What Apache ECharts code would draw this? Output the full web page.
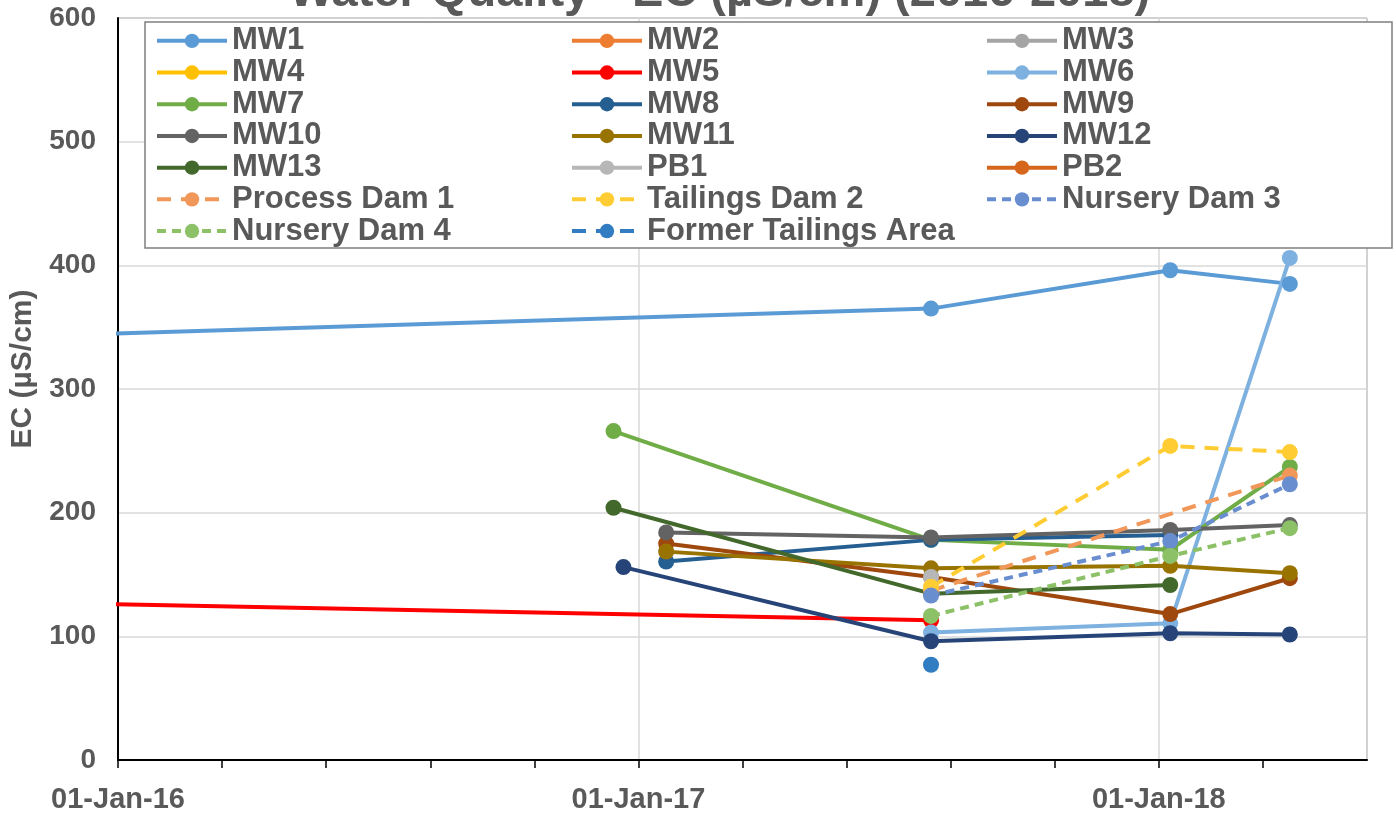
<!DOCTYPE html>
<html>
<head>
<meta charset="utf-8">
<style>
  html, body { margin: 0; padding: 0; background: #fff; }
  #chart { width: 1396px; height: 814px; }
</style>
<script src="https://cdn.jsdelivr.net/npm/echarts@6/dist/echarts.min.js"></script>
</head>
<body>
<div id="chart"></div>
<script>
// Electrical conductivity readings per monitoring point: [sample date, EC in µS/cm]
const mw1 = [['2015-08-15', 340], ['2017-07-25', 365], ['2018-01-09', 396], ['2018-04-03', 385]];
const mw2 = [];
const mw3 = [];
const mw4 = [];
const mw5 = [['2015-08-15', 129], ['2017-07-25', 113]];
const mw6 = [['2017-07-25', 103], ['2018-01-09', 110.5], ['2018-04-03', 406]];
const mw7 = [['2016-12-14', 266], ['2017-07-25', 178], ['2018-01-09', 170], ['2018-04-03', 237]];
const mw8 = [['2017-01-20', 160.5], ['2017-07-25', 178], ['2018-01-09', 182]];
const mw9 = [['2017-01-20', 175], ['2017-07-25', 148], ['2018-01-09', 118], ['2018-04-03', 147]];
const mw10 = [['2017-01-20', 184], ['2017-07-25', 180], ['2018-01-09', 186], ['2018-04-03', 190]];
const mw11 = [['2017-01-20', 168.5], ['2017-07-25', 155], ['2018-01-09', 157], ['2018-04-03', 151]];
const mw12 = [['2016-12-21', 156], ['2017-07-25', 96], ['2018-01-09', 102.5], ['2018-04-03', 101.5]];
const mw13 = [['2016-12-14', 204], ['2017-07-25', 134.5], ['2018-01-09', 141.5]];
const pb1 = [['2017-07-25', 148]];
const pb2 = [];
const processDam1 = [['2017-07-25', 137], ['2018-04-03', 230]];
const tailingsDam2 = [['2017-07-25', 140], ['2018-01-09', 254], ['2018-04-03', 249]];
const nurseryDam3 = [['2017-07-25', 133], ['2018-01-09', 177], ['2018-04-03', 223]];
const nurseryDam4 = [['2017-07-25', 116.5], ['2018-01-09', 165], ['2018-04-03', 187.5]];
const formerTailingsArea = [['2017-07-25', 77]];

const seriesNames = ['MW1', 'MW2', 'MW3', 'MW4', 'MW5', 'MW6', 'MW7', 'MW8', 'MW9', 'MW10',
  'MW11', 'MW12', 'MW13', 'PB1', 'PB2', 'Process Dam 1', 'Tailings Dam 2', 'Nursery Dam 3',
  'Nursery Dam 4', 'Former Tailings Area'];
const seriesData = [mw1, mw2, mw3, mw4, mw5, mw6, mw7, mw8, mw9, mw10,
  mw11, mw12, mw13, pb1, pb2, processDam1, tailingsDam2, nurseryDam3,
  nurseryDam4, formerTailingsArea];

// Axis extents: days counted from 01-Jan-2016, ticks every fifth of a year
const yTicks = [0, 100, 200, 300, 400, 500, 600];
const xTickDays = 73.1;
const xMaxDays = 877.2;

// Look of each line
const colors = ['#5B9BD5', '#ED7D31', '#A5A5A5', '#FFC000', '#FF0000', '#7EB1DF', '#70AD47',
  '#255E91', '#9E480E', '#636363', '#997300', '#264478', '#43682B', '#B7B7B7', '#D5661C',
  '#F1975A', '#FFCD33', '#698ED0', '#8CC168', '#327DC2'];
const dashes = {
  'Process Dam 1': [14, 10],
  'Tailings Dam 2': [14, 10],
  'Former Tailings Area': [14, 10],
  'Nursery Dam 3': [9, 6],
  'Nursery Dam 4': [9, 6]
};

const DAY = 86400000;
const ORIGIN = Date.UTC(2016, 0, 1);
function toDays(s) {
  const p = s.split('-').map(Number);
  return (Date.UTC(p[0], p[1] - 1, p[2]) - ORIGIN) / DAY;
}
const MONTHS = ['Jan', 'Feb', 'Mar', 'Apr', 'May', 'Jun', 'Jul', 'Aug', 'Sep', 'Oct', 'Nov', 'Dec'];
function dayLabel(v) {
  const k = Math.round(v / xTickDays);
  if (k % 5 !== 0) return '';
  const d = new Date(ORIGIN + Math.round(v) * DAY);
  const dd = String(d.getUTCDate()).padStart(2, '0');
  const yy = String(d.getUTCFullYear() % 100).padStart(2, '0');
  return dd + '-' + MONTHS[d.getUTCMonth()] + '-' + yy;
}

const FONT = '"Liberation Sans", Arial, sans-serif';
const TEXT = '#595959';

const series = seriesNames.map((name, i) => ({
  name: name,
  type: 'line',
  xAxisIndex: 0,
  data: seriesData[i].map(r => [toDays(r[0]), r[1]]),
  symbol: 'circle',
  symbolSize: name === 'MW2' ? 21 : 16,
  showAllSymbol: true,
  clip: true,
  color: colors[i],
  lineStyle: { width: 4, color: colors[i], type: dashes[name] || 'solid' },
  itemStyle: { color: colors[i] },
  emphasis: { disabled: true },
  animation: false
}));

// Legend laid out in three columns, filled row by row
const legendColumnsX = [155, 570, 985];
const legends = legendColumnsX.map((x, c) => ({
  data: seriesNames.filter((n, i) => i % 3 === c),
  orient: 'vertical',
  left: x,
  top: 25,
  padding: 0,
  itemGap: 0,
  itemWidth: 70,
  itemHeight: 18,
  selectedMode: false,
  lineStyle: { width: 4 },
  textStyle: {
    fontFamily: FONT, fontSize: 31, fontWeight: 'bold', color: TEXT, lineHeight: 31.7
  }
}));

const chart = echarts.init(document.getElementById('chart'), null, { renderer: 'canvas' });
chart.setOption({
  animation: false,
  backgroundColor: '#ffffff',
  title: {
    text: 'Water Quality - EC (µS/cm) (2016-2018)',
    left: 284,
    top: -35,
    textStyle: { fontFamily: FONT, fontSize: 47, fontWeight: 'bold', color: TEXT }
  },
  grid: {
    left: 118, right: 29, top: 18, bottom: 52,
    show: true, borderColor: '#7F7F7F', borderWidth: 1, backgroundColor: 'transparent'
  },
  // white legend panel with border, drawn over the plot and under the legend entries
  graphic: [{
    type: 'rect',
    z: 3,
    shape: { x: 145, y: 22, width: 1247, height: 226 },
    style: { fill: '#ffffff', stroke: '#7F7F7F', lineWidth: 1.5 }
  }],
  legend: legends,
  xAxis: [
    {
      type: 'value',
      min: 0,
      max: xMaxDays,
      interval: xTickDays,
      axisLine: { show: true, onZero: false, lineStyle: { color: '#000000', width: 2 } },
      axisTick: { show: true, length: 8, lineStyle: { color: '#000000', width: 1.5 } },
      axisLabel: {
        show: true, margin: 25, showMaxLabel: false, formatter: dayLabel,
        fontFamily: FONT, fontSize: 29, fontWeight: 'bold', color: TEXT
      },
      splitLine: { show: false }
    },
    {
      // yearly vertical gridlines
      type: 'value',
      min: 0,
      max: xMaxDays,
      interval: 365.5,
      position: 'bottom',
      axisLine: { show: false },
      axisTick: { show: false },
      axisLabel: { show: false },
      splitLine: { show: true, lineStyle: { color: '#D9D9D9', width: 1.5 } }
    }
  ],
  yAxis: {
    type: 'value',
    min: yTicks[0],
    max: yTicks[yTicks.length - 1],
    interval: yTicks[1] - yTicks[0],
    name: 'EC (µS/cm)',
    nameLocation: 'middle',
    nameGap: 80,
    nameTextStyle: { fontFamily: FONT, fontSize: 30, fontWeight: 'bold', color: TEXT, padding: [0, 0, 0, 40] },
    axisLine: { show: true, lineStyle: { color: '#000000', width: 2 } },
    axisTick: { show: false },
    axisLabel: { margin: 22, fontFamily: FONT, fontSize: 28, fontWeight: 'bold', color: TEXT },
    splitLine: { show: true, lineStyle: { color: '#D9D9D9', width: 1.5 } }
  },
  series: series
});
</script>
</body>
</html>
